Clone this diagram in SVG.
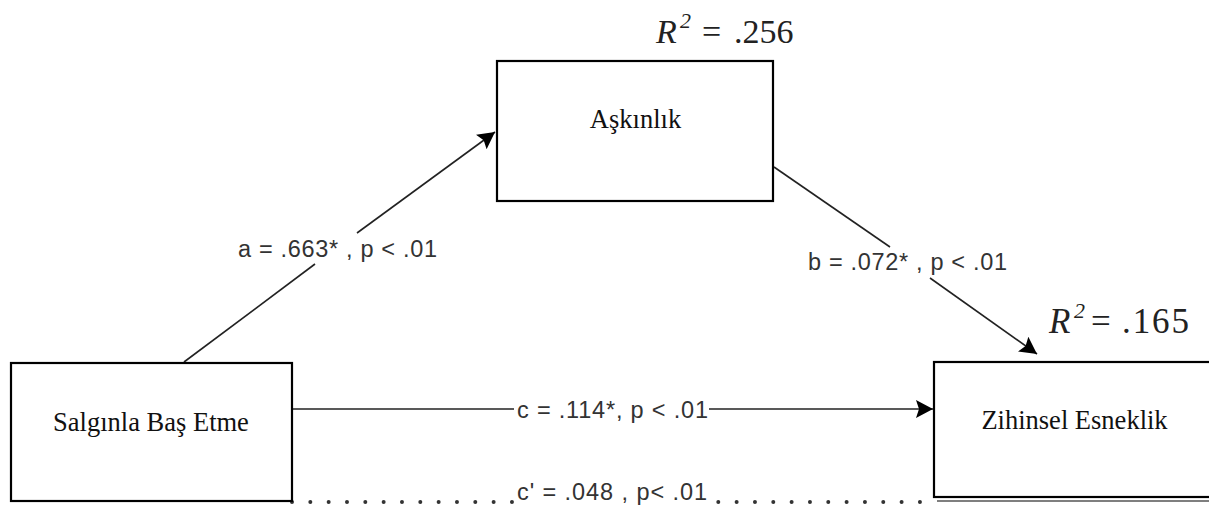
<svg xmlns="http://www.w3.org/2000/svg" width="1209" height="510" viewBox="0 0 1209 510">
<style>
.box{fill:#fff;stroke:#000;stroke-width:2.2}
.node{font-family:"Liberation Serif","Times New Roman",serif;font-size:26.5px;fill:#111;text-anchor:middle}
.lbl{font-family:"Liberation Sans",Arial,sans-serif;font-size:23.5px;fill:#333}
.conn{stroke:#222;stroke-width:1.6;fill:none}
.dots{stroke:#333;stroke-width:4;stroke-linecap:round;stroke-dasharray:0 18.33;fill:none}
.r2{font-family:"Liberation Serif","Times New Roman",serif;fill:#222}
</style>
<defs>
<marker id="arr" markerUnits="userSpaceOnUse" markerWidth="18" markerHeight="20" refX="17" refY="9" orient="auto" viewBox="0 0 18 18">
<path d="M0,0 L17,9 L0,18 L3,9 z" fill="#000"/>
</marker>
</defs>
<rect width="1209" height="510" fill="#fff"/>

<g id="connectors">
<line class="conn" x1="184" y1="362" x2="315" y2="264"/>
<line class="conn" x1="357" y1="233" x2="495" y2="132" marker-end="url(#arr)"/>
<line class="conn" x1="774" y1="167" x2="890" y2="247"/>
<line class="conn" x1="930" y1="278" x2="1037" y2="354" marker-end="url(#arr)"/>
<line class="conn" x1="292" y1="409" x2="514" y2="409"/>
<line class="conn" x1="709" y1="409" x2="933" y2="409" marker-end="url(#arr)"/>
<line class="dots" x1="292" y1="502" x2="513" y2="502"/>
<line class="dots" x1="718.3" y1="502" x2="921" y2="502"/>
<text class="lbl" x="238" y="257" textLength="199" lengthAdjust="spacing">a = .663* , p &lt; .01</text>
<text class="lbl" x="808" y="270" textLength="199" lengthAdjust="spacing">b = .072* , p &lt; .01</text>
<text class="lbl" x="517" y="418" textLength="191" lengthAdjust="spacing">c = .114*, p &lt; .01</text>
<text class="lbl" x="517" y="500" textLength="190" lengthAdjust="spacing">c' = .048 , p&lt; .01</text>
</g>

<g id="node-askinlik">
<rect class="box" x="497" y="61" width="276" height="140"/>
<text class="node" x="635.5" y="128">Aşkınlık</text>
<text class="r2" y="43" font-size="34"><tspan x="656" font-style="italic">R</tspan><tspan x="680" y="28" font-size="22" font-style="italic">2</tspan><tspan x="702" y="43">=</tspan><tspan x="734" y="43">.256</tspan></text>
</g>

<g id="node-salginla">
<rect class="box" x="11" y="363" width="281" height="138"/>
<text class="node" x="151" y="431">Salgınla Baş Etme</text>
</g>

<g id="node-zihinsel">
<rect class="box" x="934" y="362" width="290" height="135"/>
<line x1="937" y1="501" x2="1209" y2="501" stroke="#555" stroke-width="1.5"/>
<text class="node" x="1074.5" y="429">Zihinsel Esneklik</text>
<text class="r2" y="333" font-size="35"><tspan x="1049" font-style="italic">R</tspan><tspan x="1074" y="318" font-size="22" font-style="italic">2</tspan><tspan x="1091" y="333">=</tspan><tspan x="1122" y="333" textLength="67">.165</tspan></text>
</g>
</svg>
